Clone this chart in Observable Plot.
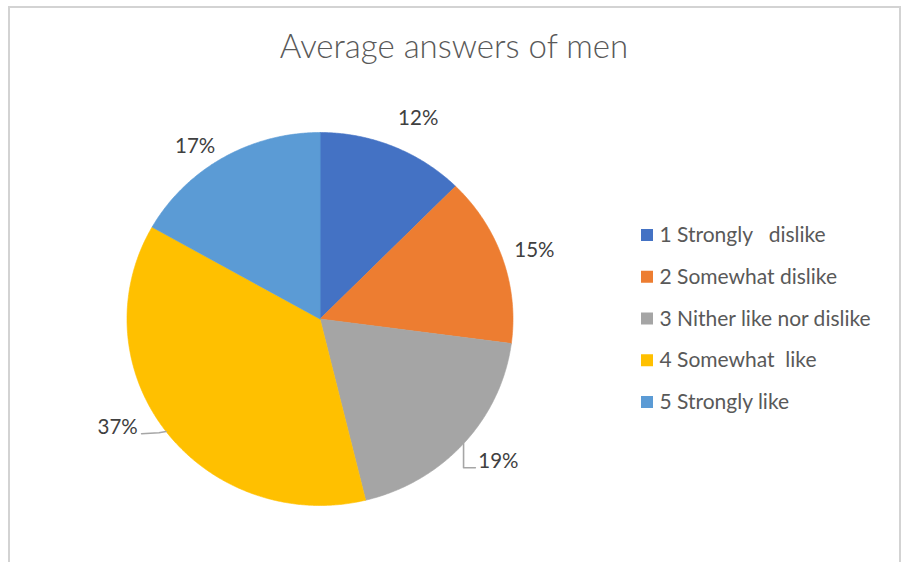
<!DOCTYPE html>
<html><head><meta charset="utf-8">
<script src="https://cdn.jsdelivr.net/npm/d3@7"></script>
<script src="https://cdn.jsdelivr.net/npm/@observablehq/plot@0.6"></script>
<style>
html,body{margin:0;padding:0;background:#fff;}
#wrap{position:relative;width:904px;height:562px;overflow:hidden;font-family:Lato,"Open Sans",sans-serif;}
#chart{position:absolute;left:0;top:0;}
#chart svg text{white-space:pre;}
#frame{position:absolute;left:8px;top:6px;width:893px;height:600px;box-sizing:border-box;border:2px solid #d3d3d3;border-bottom:none;}
#title{position:absolute;left:0;width:908px;top:25px;text-align:center;font-size:33px;font-weight:300;color:#595959;white-space:nowrap;}
</style></head>
<body><div id="wrap"><div id="chart"></div><div id="frame"></div><div id="title">Average answers of men</div></div>
<script>
const categories = ["1 Strongly   dislike","2 Somewhat dislike","3 Nither like nor dislike","4 Somewhat  like","5 Strongly like"];
const values = [12.4, 14.7, 19.1, 37.0, 16.8];
const labels = ["12%","15%","19%","37%","17%"];
const colors = ["#4472C4","#ED7D31","#A5A5A5","#FFC000","#5B9BD5"];

// layout (pixel space)
const cx = 319.5, cy = 318.5, rx = 193, ry = 186.5;
const labelShift = [3, 0.6, -2.3, 8, -4.7];
const labelRad = [1.19, 1.17, 1.2, 1.2, 1.13];
const leader = [false, false, true, true, false];

const total = d3.sum(values);
const rad = a => a * Math.PI / 180;
const px = (a, r = 1) => cx + r * rx * Math.sin(rad(a));
const py = (a, r = 1) => cy - r * ry * Math.cos(rad(a));
let acc = 0;
const slices = categories.map((c, i) => {
  const a0 = acc / total * 360; acc += values[i]; const a1 = acc / total * 360;
  return {c, i, a0, a1, mid: (a0 + a1) / 2};
});
const piePts = slices.map(s => {
  const pts = [{x: cx, y: cy}];
  const n = Math.max(2, Math.ceil((s.a1 - s.a0) / 0.5));
  for (let k = 0; k <= n; k++) { const a = s.a0 + (s.a1 - s.a0) * k / n; pts.push({x: px(a), y: py(a)}); }
  return pts;
});
const labelData = slices.map((s, i) => {
  const a = s.mid + labelShift[i];
  return {text: labels[i], x: px(a, labelRad[i]), y: py(a, labelRad[i]), i};
});
const leaders = [];
labelData.forEach((l, i) => {
  if (!leader[i]) return;
  const s = slices[i];
  const ex = px(s.mid), ey = py(s.mid);
  const ly = l.y + 6;
  if (l.x > cx) {
    leaders.push({x: ex, y: ey, i}, {x: ex, y: ly, i}, {x: l.x - 23, y: ly, i});
  } else {
    leaders.push({x: l.x + 24, y: ly, i}, {x: ex - 7, y: ly - 1, i}, {x: ex, y: ey, i});
  }
});
const legendData = categories.map((c, i) => ({c, i, y: 235 + i * 41.75}));

const chart = Plot.plot({
  width: 904, height: 562, margin: 0,
  x: {domain: [0, 904], range: [0, 904], axis: null},
  y: {domain: [0, 562], range: [0, 562], axis: null},
  style: {background: "transparent", overflow: "visible"},
  marks: [
    ...piePts.map((pts, i) => Plot.line(pts, {x: "x", y: "y", fill: colors[i], stroke: colors[i], strokeWidth: 0.6, curve: "linear-closed"})),
    Plot.line(leaders, {x: "x", y: "y", z: "i", stroke: "#a6a6a6", strokeWidth: 1.6}),
    Plot.text(labelData, {x: "x", y: "y", text: "text", fontSize: 20.5, fill: "#404040", fontFamily: "Lato"}),
    Plot.rect(legendData, {x1: () => 641, x2: () => 653, y1: d => d.y - 6, y2: d => d.y + 6, fill: d => colors[d.i]}),
    Plot.text(legendData, {x: () => 659, y: "y", text: "c", textAnchor: "start", fontSize: 21, fill: "#595959", fontFamily: "Lato"})
  ]
});
document.getElementById("chart").appendChild(chart);
</script>
</body></html>
